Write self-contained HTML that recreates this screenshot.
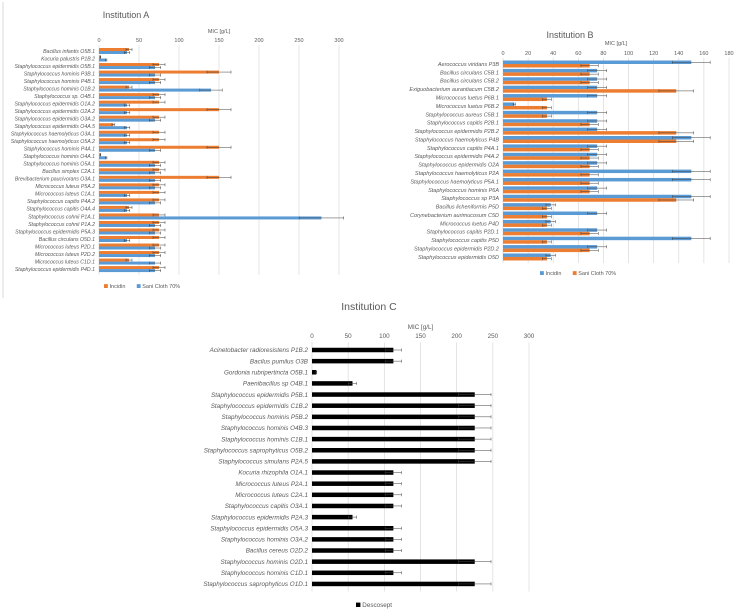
<!DOCTYPE html>
<html><head><meta charset="utf-8"><style>
html,body{margin:0;padding:0;background:#fff;}
svg{display:block;font-family:"Liberation Sans",sans-serif;}
</style></head><body>
<svg id="svg" width="736" height="610" viewBox="0 0 736 610" xmlns="http://www.w3.org/2000/svg">
<line x1="3" y1="2" x2="3" y2="298" stroke="#d9d9d9" stroke-width="1"/>
<g id="ga"></g>
<g id="gb"></g>
<g id="gc"></g>
</svg>
<script>
const aCats=["Bacillus infantis O5B.1","Kocuria palustris P1B.2","Staphylococcus epidermidis O5B.1","Staphylococcus hominis P3B.1","Staphylococcus hominis P4B.1","Staphylococcus hominis O1B.2","Staphylococcus sp. O4B.1","Staphylococcus epidermidis O1A.2","Staphylococcus epidermidis O2A.2","Staphylococcus epidermidis O3A.2","Staphylococcus epidermidis O4A.5","Staphylococcus haemolyticus O3A.1","Staphylococcus haemolyticus O5A.2","Staphylococcus hominis P4A.1","Staphylococcus hominis O4A.1","Staphylococcus hominis O5A.1","Bacillus simplex C2A.1","Brevibacterium paucivorans O3A.1","Micrococcus luteus P5A.2","Micrococcus luteus C1A.1","Staphylococcus capitis P4A.2","Staphylococcus capitis O4A.4","Staphylococcus cohnii P1A.1","Staphylococcus cohnii P1A.2","Staphylococcus epidermidis P5A.3","Bacillus circulans O5D.1","Micrococcus luteus P2D.1","Micrococcus luteus P2D.2","Micrococcus luteus C1D.1","Staphylococcus epidermidis P4D.1"];
const aIncidin=[37.5,2,75,150,75,37.5,75,75,150,75,18,75,75,150,2,75,75,150,75,75,75,37.5,75,75,75,75,75,75,37.5,75];
const aSani=[35,9,70,70,70,140,70,35,35,70,35,35,35,70,9,70,70,70,70,35,70,35,278,70,70,35,70,70,70,70];
const aTicks=[0,50,100,150,200,250,300];

const bCats=["Aerococcus viridans P3B","Bacillus circulans C5B.1","Bacillus circulans C5B.2","Exiguobacterium aurantiacum C5B.2","Micrococcus luetus P6B.1","Micrococcus luetus P6B.2","Staphylococcus aureus C5B.1","Staphylococcus capitis P2B.1","Staphylococcus epidermidis P2B.2","Staphylococcus haemolyticus P4B","Staphylococcus capitis P4A.1","Staphylococcus epidermidis P4A.2","Staphylococcus epidermidis O2A","Staphylococcus haemolyticus P2A","Staphylococcus haemolyticus P5A.1","Staphylococcus hominis P6A","Staphylococcus sp P3A","Bacillus licheniformis P5D","Corynebacterium aurimucosum C5D","Micrococcus luetus P4D","Staphylococcus capitis P2D.1","Staphylococcus capitis P5D","Staphylococcus epidermidis P2D.2","Staphylococcus epidermidis O5D"];
const bIncidin=[150,75,75,75,75,9,75,75,75,150,75,75,75,150,150,75,150,38,75,38,75,150,75,38];
const bSani=[69,69,69,138,35,35,35,69,138,138,69,69,69,69,69,69,138,35,35,35,69,35,69,35];
const bTicks=[0,20,40,60,80,100,120,140,160,180];

const cCats=["Acinetobacter radioresistens P1B.2","Bacilus pumilus O3B","Gordonia rubripertincta O5B.1","Paenibacillus sp O4B.1","Staphylococcus epidermidis P5B.1","Staphylococcus epidermidis C1B.2","Staphylococcus hominis P5B.2","Staphylococcus hominis O4B.3","Staphylococcus hominis C1B.1","Staphylococcus saprophyticus O5B.2","Staphylococcus simulans P2A.5","Kocuria rhizophila O1A.1","Micrococcus luteus P2A.1","Micrococcus luteus C2A.1","Staphylococcus capitis O3A.1","Staphylococcus epidermidis P2A.3","Staphylococcus epidermidis O5A.3","Staphylococcus hominis O3A.2","Bacillus cereus O2D.2","Staphylococcus hominis O2D.1","Staphylococcus hominis C1D.1","Staphylococcus saprophyticus O1D.1"];
const cDescosept=[112.5,112.5,6,56,225,225,225,225,225,225,225,112.5,112.5,112.5,112.5,56,112.5,112.5,112.5,225,112.5,225];
const cTicks=[0,50,100,150,200,250,300];

const NS="http://www.w3.org/2000/svg";
function mk(parent,tag,attrs,text){const e=document.createElementNS(NS,tag);for(const k in attrs)e.setAttribute(k,attrs[k]);if(text!==undefined)e.textContent=text;parent.appendChild(e);return e;}

function chart(g,cfg){
  const x=v=>cfg.x0+(v-cfg.min)/(cfg.max-cfg.min)*(cfg.x1-cfg.x0);
  const y=i=>cfg.y0+i*cfg.pitch;
  const t=mk(g,'text',{x:cfg.titleX,y:cfg.titleY,'font-size':cfg.titleSize,fill:'#595959','text-anchor':'middle'},cfg.title);
  
  
  const at=mk(g,'text',{x:(cfg.x0+cfg.x1)/2,y:cfg.axisTitleY,'font-size':cfg.tick,fill:'#595959','text-anchor':'middle'},'MIC [g/L]');
  
  
  const gTop=cfg.y0-cfg.pitch/2-2, gBot=y(cfg.cats.length-1)+cfg.pitch/2+2;
  cfg.ticks.forEach(v=>{
    const l=mk(g,'line',{x1:x(v),x2:x(v),y1:gTop,y2:gBot,stroke:'#d9d9d9','stroke-width':0.7});
    
    
    const tl=mk(g,'text',{x:x(v),y:cfg.tickY,'font-size':cfg.tick,fill:'#595959','text-anchor':'middle'},String(v));
    
    
  });
  cfg.cats.forEach((c,i)=>{
    const lb=mk(g,'text',{x:cfg.x0-4,y:y(i)+cfg.label*0.35,'font-size':cfg.label,fill:'#595959','text-anchor':'end','font-style':'italic'},c);
    
    
    const n=cfg.series.length;
    cfg.series.forEach((s,k)=>{
      const v=s.values[i];
      const by=y(i)-n*cfg.bh/2+k*cfg.bh;
      const r=mk(g,'rect',{x:x(0),y:by,width:Math.max(0,x(v)-x(0)),height:cfg.bh,fill:s.color});
      
      
      const e=v*0.1, cy=by+cfg.bh/2;
      const eb=mk(g,'path',{d:`M${x(v-e)},${cy}H${x(v+e)}M${x(v+e)},${cy-1.5}V${cy+1.5}M${x(v-e)},${cy-1.5}V${cy+1.5}`,stroke:'#404040','stroke-width':0.5,fill:'none'});
      
      
    });
  });
  let lx=cfg.legendX;
  cfg.series.forEach(s=>{
    const sw=mk(g,'rect',{x:lx,y:cfg.legendY-cfg.tick*0.7,width:cfg.tick*0.7,height:cfg.tick*0.7,fill:s.color});
    
    
    const lt=mk(g,'text',{x:lx+cfg.tick,y:cfg.legendY,'font-size':cfg.tick,fill:'#595959'},s.name);
    
    
    lx+=cfg.tick+s.name.length*cfg.tick*0.5+8;
  });
}
const OR='#ED7D31', BL='#5B9BD5';
chart(document.getElementById('ga'),{cats:aCats,series:[{key:'incidin',name:'Incidin',values:aIncidin,color:OR},{key:'sani-cloth',name:'Sani Cloth 70%',values:aSani,color:BL}],ticks:aTicks,min:0,max:300,x0:99,x1:339,y0:51,pitch:7.52,bh:3,label:5.2,tick:5.5,tickY:42,axisTitleY:33,title:'Institution A',titleX:126,titleY:18,titleSize:9,legendX:104,legendY:288});
chart(document.getElementById('gb'),{cats:bCats,series:[{key:'incidin',name:'Incidin',values:bIncidin,color:BL},{key:'sani-cloth',name:'Sani Cloth 70%',values:bSani,color:OR}],ticks:bTicks,min:0,max:180,x0:503,x1:729,y0:64,pitch:8.39,bh:3.5,label:5.5,tick:5.5,tickY:55,axisTitleY:45,title:'Institution B',titleX:570,titleY:38,titleSize:9,legendX:540,legendY:275});
chart(document.getElementById('gc'),{cats:cCats,series:[{key:'descosept',name:'Descosept',values:cDescosept,color:'#000'}],ticks:cTicks,min:0,max:300,x0:312,x1:529,y0:350,pitch:11.14,bh:4.5,label:6.3,tick:6.3,tickY:338,axisTitleY:329,title:'Institution C',titleX:369,titleY:310,titleSize:10.5,legendX:356,legendY:607});
</script>
</body></html>
